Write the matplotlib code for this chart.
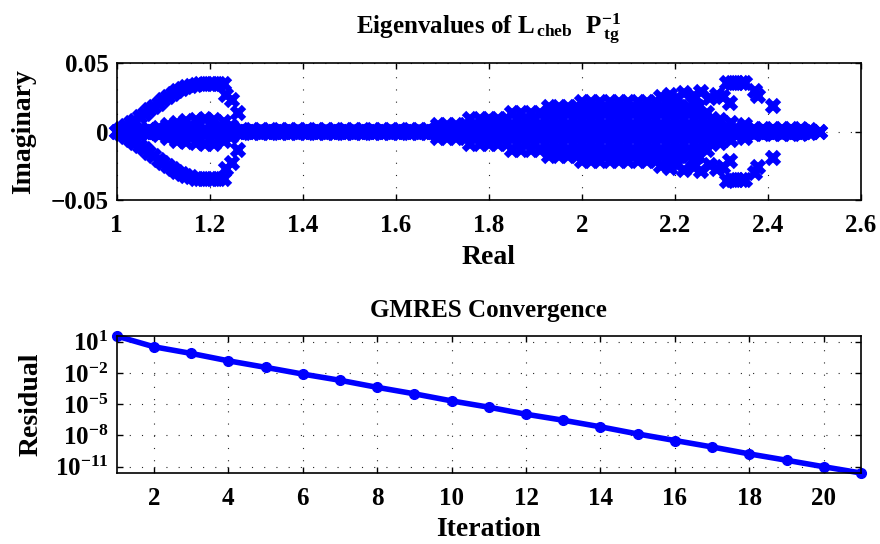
import numpy as np
import matplotlib
matplotlib.use("Agg")
import matplotlib.pyplot as plt
from matplotlib.ticker import FixedLocator, FixedFormatter

plt.rcParams['font.family'] = ['Liberation Serif', 'DejaVu Serif']
plt.rcParams['font.weight'] = 'bold'
plt.rcParams['axes.labelweight'] = 'bold'
plt.rcParams['axes.titleweight'] = 'bold'
plt.rcParams['mathtext.fontset'] = 'custom'
plt.rcParams['mathtext.rm'] = 'Liberation Serif:bold'
plt.rcParams['mathtext.it'] = 'Liberation Serif:bold'
plt.rcParams['mathtext.bf'] = 'Liberation Serif:bold'

## Eigenvalues of the preconditioned operator (upper half plane, conjugates added below)
# eigenvalues on the real axis
axis_re = [1.00, 1.02, 1.04, 1.06, 1.08, 1.10, 1.12, 1.14, 1.16, 1.18,
           1.20, 1.22, 1.24, 1.26, 1.28, 1.30, 1.32, 1.34, 1.36, 1.38,
           1.40, 1.42, 1.44, 1.46, 1.48, 1.50, 1.52, 1.54, 1.56, 1.58,
           1.60, 1.62, 1.64, 1.66, 1.68, 1.70, 1.72, 1.74, 1.76, 1.78,
           1.80, 1.82, 1.84, 1.86, 1.88, 1.90, 1.92, 1.94, 1.96, 1.98,
           2.00, 2.02, 2.04, 2.06, 2.08, 2.10, 2.12, 2.14, 2.16, 2.18,
           2.20, 2.22, 2.24, 2.26, 2.28, 2.30, 2.32, 2.34, 2.36, 2.38,
           2.40, 2.42, 2.44, 2.46, 2.48, 2.494, 2.512]

# eigenvalues just off the real axis
near_im = 0.0012
near_re = [1.01, 1.03, 1.05, 1.07, 1.09, 1.11, 1.13, 1.15, 1.17, 1.19,
           1.21, 1.23, 1.25, 1.27, 1.29, 1.31, 1.33, 1.35, 1.37, 1.39,
           1.41, 1.43, 1.45, 1.47, 1.49, 1.51, 1.53, 1.55, 1.57, 1.59,
           1.61, 1.63, 1.65, 1.67, 1.69, 1.71, 1.73, 1.75, 1.77, 1.79,
           1.81, 1.83, 1.85, 1.87, 1.89, 1.91, 1.93, 1.95, 1.97, 1.99,
           2.01, 2.03, 2.05, 2.07, 2.09, 2.11, 2.13, 2.15, 2.17, 2.19,
           2.21, 2.23, 2.25, 2.27, 2.29, 2.31, 2.33, 2.35, 2.37, 2.39,
           2.41, 2.43, 2.45, 2.47, 2.49]

# outer loop branch near Re = 1..1.26
loop_re = [1.01, 1.02, 1.03, 1.04, 1.05, 1.06, 1.07, 1.08, 1.09, 1.10,
           1.11, 1.12, 1.13, 1.14, 1.15, 1.16, 1.17, 1.18, 1.19, 1.20,
           1.21, 1.22, 1.23, 1.236, 1.248, 1.261]
loop_im = [0.002, 0.004, 0.006, 0.008, 0.0105, 0.013, 0.0155, 0.018, 0.0205, 0.023,
           0.0253, 0.0275, 0.0295, 0.031, 0.0325, 0.0335, 0.0343, 0.0348, 0.035, 0.035,
           0.035, 0.0348, 0.0345, 0.027, 0.023, 0.0134]

# inner lobe near Re = 1.07..1.25
lobe_re = [1.07, 1.09, 1.11, 1.13, 1.15, 1.17, 1.19, 1.21, 1.23, 1.245]
lobe_im = [0.001, 0.0025, 0.0045, 0.0065, 0.0078, 0.0086, 0.009, 0.0088, 0.0072, 0.004]

# widening cluster Re = 1.7..2.5, stored as rows of equal imaginary part
row_im = [0.0045, 0.0017, 0.009, 0.0135, 0.018, 0.0215]
row_re = [
    [1.69, 1.71, 1.73, 1.75, 1.77, 1.79, 1.81, 1.83, 1.85, 1.87, 1.89, 1.91, 1.93, 1.95, 1.97,
     1.99, 2.01, 2.03, 2.05, 2.07, 2.09, 2.11, 2.13, 2.15, 2.17, 2.19, 2.21, 2.23, 2.25, 2.27, 2.29],
    [2.31, 2.33, 2.35, 2.37, 2.39, 2.41, 2.43, 2.45, 2.47],
    [1.76, 1.78, 1.80, 1.82, 1.84, 1.86, 1.88, 1.90, 1.92, 1.94, 1.96, 1.98, 2.00, 2.02,
     2.04, 2.06, 2.08, 2.10, 2.12, 2.14, 2.16, 2.18, 2.20, 2.22, 2.24, 2.26, 2.28],
    [1.85, 1.87, 1.89, 1.91, 1.93, 1.95, 1.97, 1.99, 2.01, 2.03, 2.05, 2.07, 2.09, 2.11,
     2.13, 2.15, 2.17, 2.19, 2.21, 2.23, 2.25, 2.27],
    [1.93, 1.95, 1.97, 1.99, 2.01, 2.03, 2.05, 2.07, 2.09, 2.11, 2.13, 2.15, 2.17, 2.19,
     2.21, 2.23, 2.25],
    [2.00, 2.02, 2.04, 2.06, 2.08, 2.10, 2.12, 2.14, 2.16, 2.18],
]

# scattered outliers at the right end
out_re = [2.17, 2.19, 2.205, 2.22, 2.24, 2.255, 2.275, 2.29, 2.303, 2.318,
          2.311, 2.322, 2.333, 2.344, 2.351, 2.372, 2.378, 2.41, 2.296, 2.32, 2.35]
out_im = [0.0255, 0.0265, 0.0245, 0.028, 0.026, 0.029, 0.0245, 0.027, 0.0256, 0.0212,
          0.0358, 0.0356, 0.0354, 0.0356, 0.0354, 0.030, 0.026, 0.019, 0.0086, 0.006, 0.005]

## GMRES residual history
iters = np.arange(1, 22)
residual = [35.5, 3.3, 0.76, 0.148, 0.035, 7.9e-3, 2.0e-3, 4.2e-4, 1.0e-4, 2.1e-5,
            5.2e-6, 1.1e-6, 2.9e-7, 6.8e-8, 1.4e-8, 3.3e-9, 7.9e-10, 1.7e-10, 4.2e-11,
            1.0e-11, 2.5e-12]

# assemble eigenvalue set
re = list(axis_re) + near_re + loop_re + lobe_re + out_re
im = [0.0] * len(axis_re) + [near_im] * len(near_re) + loop_im + lobe_im + out_im
for lvl, xs in zip(row_im, row_re):
    re += xs
    im += [lvl] * len(xs)
eig = np.array(re) + 1j * np.array(im)
eig = np.concatenate([eig, eig.conj()])

fs_tick = 18
fs_label = 20
fs_title = 18
grid_kw = dict(color='0.15', linestyle=(0, (1, 10)), linewidth=0.8)


def matlab_axes(ax):
    ax.tick_params(direction='in', top=True, right=True, length=4, width=1.0,
                   labelsize=fs_tick, pad=6)
    ax.tick_params(axis='x', pad=10)
    for s in ax.spines.values():
        s.set_linewidth(1.2)
    ax.grid(True, **grid_kw)
    ax.set_axisbelow(True)


fig = plt.figure(figsize=(8.8, 5.44), dpi=100)

ax1 = fig.add_axes([0.1326, 0.6324, 0.8458, 0.2513])
ax1.plot(eig.real, eig.imag, 'x', color='b', ms=8, mew=4.5, clip_on=False)
ax1.set_xlim(1, 2.6)
ax1.set_ylim(-0.05, 0.05)
ax1.set_xticks([1, 1.2, 1.4, 1.6, 1.8, 2, 2.2, 2.4, 2.6])
ax1.set_xticklabels(['1', '1.2', '1.4', '1.6', '1.8', '2', '2.2', '2.4', '2.6'])
ax1.set_yticks([-0.05, 0, 0.05])
ax1.set_yticklabels(['\u22120.05', '0', '0.05'])
matlab_axes(ax1)
ax1.set_xlabel('Real', fontsize=fs_label, labelpad=6)
ax1.set_ylabel('Imaginary', fontsize=fs_label, labelpad=10)
ax1.set_title(r'Eigenvalues of $\mathbf{L_{\,cheb}\ \ P_{\,tg}^{{-1}}}$',
              fontsize=fs_title, pad=21)

ax2 = fig.add_axes([0.1326, 0.1305, 0.8458, 0.2518])
ax2.semilogy(iters, residual, '-o', color='b', lw=4, ms=7, clip_on=False)
ax2.set_xlim(1, 21)
ax2.set_ylim(min(residual), max(residual))
ax2.set_xticks(range(2, 21, 2))
ax2.yaxis.set_major_locator(FixedLocator([1e1, 1e-2, 1e-5, 1e-8, 1e-11]))
ax2.yaxis.set_major_formatter(FixedFormatter(
    [r'$\mathbf{10^{%d}}$' % e for e in (1, -2, -5, -8, -11)]))
ax2.yaxis.set_minor_locator(FixedLocator([]))
matlab_axes(ax2)
ax2.set_xlabel('Iteration', fontsize=fs_label, labelpad=5)
ax2.set_ylabel('Residual', fontsize=fs_label, labelpad=8)
ax2.set_title('GMRES Convergence', fontsize=fs_title, pad=14)

fig.savefig('out.png', dpi=100)
